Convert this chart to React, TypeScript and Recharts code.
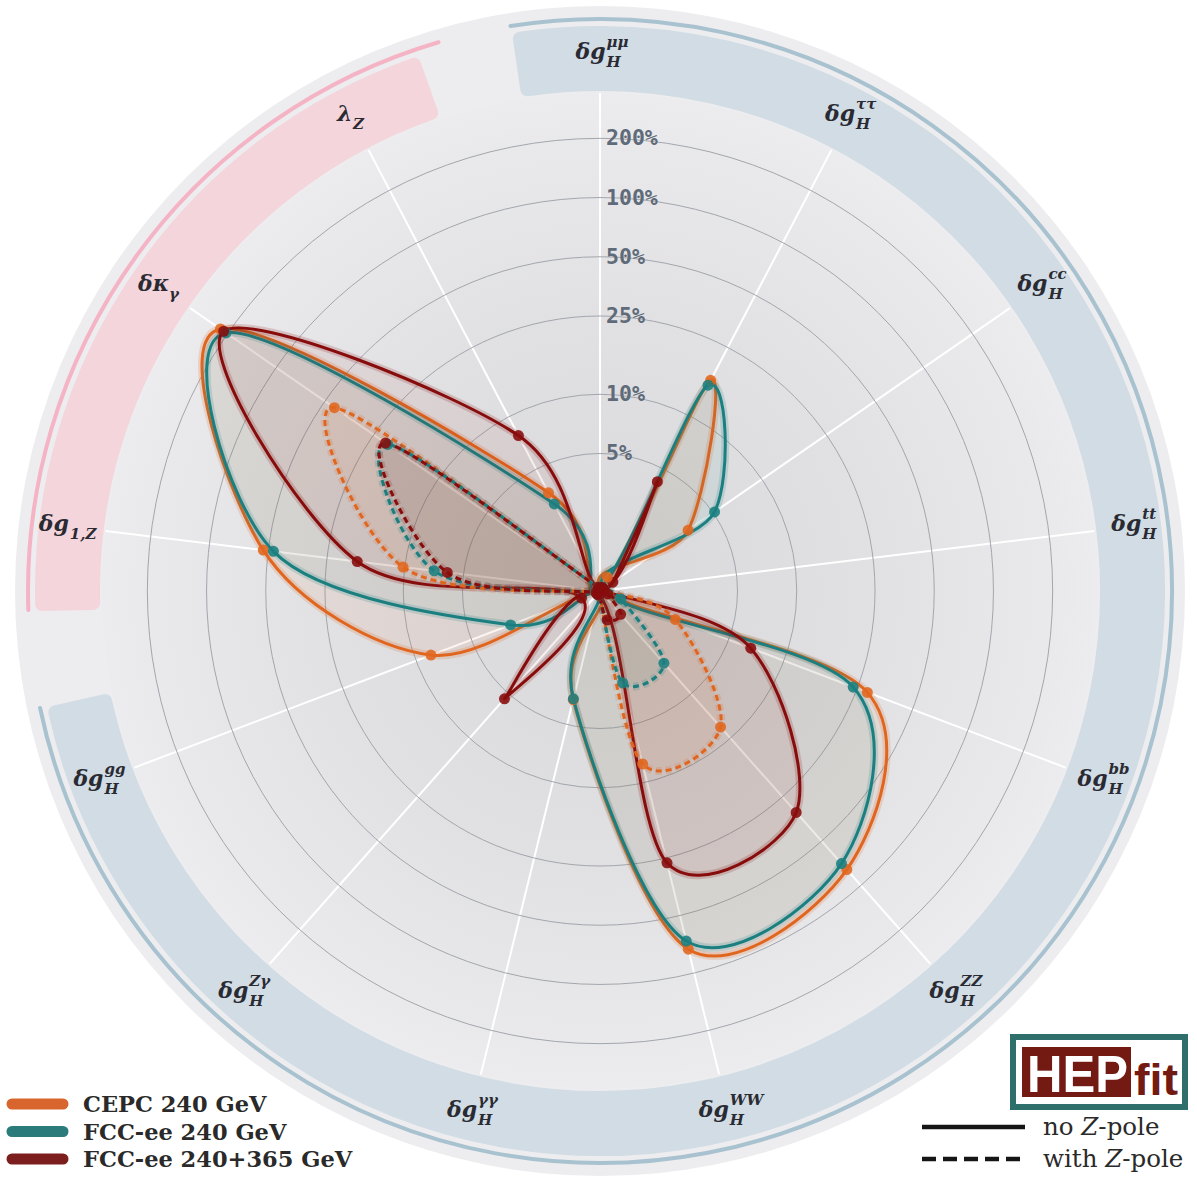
import React from 'react';
import { RadarChart, Radar, PolarGrid, PolarAngleAxis, PolarRadiusAxis } from 'recharts';

// ---------- data ----------
const AXES = ['mumu', 'tautau', 'cc', 'tt', 'bb', 'ZZ', 'WW', 'gamgam', 'Zgam', 'gg', 'g1Z', 'kgam', 'lamZ'];
const LABEL_BASE = ['δg', 'δg', 'δg', 'δg', 'δg', 'δg', 'δg', 'δg', 'δg', 'δg', 'δg', 'δκ', 'λ'];
const LABEL_SUB = ['H', 'H', 'H', 'H', 'H', 'H', 'H', 'H', 'H', 'H', '1,Z', 'γ', 'Z'];
const LABEL_SUP = ['μμ', 'ττ', 'cc', 'tt', 'bb', 'ZZ', 'WW', 'γγ', 'Zγ', 'gg', '', '', ''];

// precision in % (no Z-pole)
const CEPC_240 = [1.04, 16.2, 3.5, 1.05, 28.4, 78, 75, 3.7, 1.05, 8.3, 53, 221, 3.66];
const FCC_240 = [1.04, 15.2, 5.1, 1.05, 23.8, 71, 68, 3.67, 1.05, 3.06, 47, 204, 3.16];
const FCC_240_365 = [1.03, 4.24, 1.2, 1.05, 6.6, 31.9, 26.5, 1.05, 5.4, 1.26, 17.5, 211, 7.8];
// precision in % (with Z-pole)
const CEPC_240_Z = [1.04, 1.2, 1.05, 1.05, 2.57, 8.4, 8.05, 1.05, 1.05, 1.05, 10.2, 43.7, 1.05];
const FCC_240_Z = [1.04, 1.05, 1.05, 1.05, 1.3, 3.09, 3.03, 1.05, 1.05, 1.05, 7.06, 20.5, 1.05];
const FCC_240_365_Z = [1.03, 1.05, 1.05, 1.05, 1.1, 1.44, 1.42, 1.05, 1.05, 1.05, 6.06, 21.1, 1.05];

const RADIUS_TICKS = [5, 10, 25, 50, 100, 200];
const SERIES_NAMES = ['CEPC 240 GeV', 'FCC-ee 240 GeV', 'FCC-ee 240+365 GeV'];
const SERIES_COLORS = ['#e0661f', '#1b7f80', '#870c0c'];
const LEGEND_COLORS = ['#d9652e', '#2b7b7b', '#7d1e1e'];

const data = AXES.map((axis, i) => ({
  axis,
  cepc: CEPC_240[i],
  fcc: FCC_240[i],
  fcc365: FCC_240_365[i],
  cepcZ: CEPC_240_Z[i],
  fccZ: FCC_240_Z[i],
  fcc365Z: FCC_240_365_Z[i],
}));

// ---------- geometry ----------
const W = 1197;
const H = 1193;
const CX = 600;
const CY = 591;
const OUTER = 498;
const LABEL_R = 537;

function pol(r: number, a: number) {
  const t = (a * Math.PI) / 180;
  return [CX + r * Math.sin(t), CY - r * Math.cos(t)];
}

function bandPath(r0: number, r1: number, a0: number, a1: number) {
  const large = a1 - a0 > 180 ? 1 : 0;
  const [x1, y1] = pol(r1, a0);
  const [x2, y2] = pol(r1, a1);
  const [x3, y3] = pol(r0, a1);
  const [x4, y4] = pol(r0, a0);
  return `M${x1},${y1} A${r1},${r1} 0 ${large} 1 ${x2},${y2} L${x3},${y3} A${r0},${r0} 0 ${large} 0 ${x4},${y4} Z`;
}

function arcPath(r: number, a0: number, a1: number) {
  const large = a1 - a0 > 180 ? 1 : 0;
  const [x1, y1] = pol(r, a0);
  const [x2, y2] = pol(r, a1);
  return `M${x1},${y1} A${r},${r} 0 ${large} 1 ${x2},${y2}`;
}

function Band({ a0, a1, l0, l1, fill, line }: { a0: number; a1: number; l0: number; l1: number; fill: string; line: string }) {
  const r0 = 500;
  const r1 = 565;
  const inset = 7;
  const da = ((inset / ((r0 + r1) / 2)) * 180) / Math.PI;
  return (
    <g>
      <path
        d={bandPath(r0 + inset, r1 - inset, a0 + da, a1 - da)}
        fill={fill}
        stroke={fill}
        strokeWidth={inset * 2}
        strokeLinejoin="round"
      />
      <path d={arcPath(572, l0, l1)} fill="none" stroke={line} strokeWidth={4} strokeLinecap="round" />
    </g>
  );
}

function catmullClosed(pts: { x: number; y: number }[]) {
  const n = pts.length;
  let d = `M${pts[0].x},${pts[0].y}`;
  for (let i = 0; i < n; i++) {
    const p0 = pts[(i - 1 + n) % n];
    const p1 = pts[i];
    const p2 = pts[(i + 1) % n];
    const p3 = pts[(i + 2) % n];
    const c1x = p1.x + (p2.x - p0.x) / 6;
    const c1y = p1.y + (p2.y - p0.y) / 6;
    const c2x = p2.x - (p3.x - p1.x) / 6;
    const c2y = p2.y - (p3.y - p1.y) / 6;
    d += ` C${c1x},${c1y} ${c2x},${c2y} ${p2.x},${p2.y}`;
  }
  return d + ' Z';
}

function makeShape(color: string, dashed: boolean) {
  return (props: any) => {
    const pts = props.points || [];
    if (!pts.length) return <g />;
    const d = catmullClosed(pts);
    const dash = dashed ? '6 4' : undefined;
    return (
      <g>
        <path d={d} fill={color} fillOpacity={0.07} stroke="none" />
        <path d={d} fill="none" stroke={color} strokeOpacity={0.18} strokeWidth={8} strokeDasharray={dash} />
        <path d={d} fill="none" stroke={color} strokeWidth={3} strokeDasharray={dash} strokeLinejoin="round" />
      </g>
    );
  };
}

function makeDot(color: string) {
  return (p: any) => <circle key={`d-${p.index}`} cx={p.cx} cy={p.cy} r={5.5} fill={color} fillOpacity={0.88} />;
}

function charW(s: string, fs: number) {
  let w = 0;
  for (const c of s) {
    if (c === 'W') w += fs * 0.95;
    else if (c === ',') w += fs * 0.35;
    else if (c === 'Z' || c === 'H') w += fs * 0.74;
    else if (c === 't') w += fs * 0.42;
    else w += fs * 0.6;
  }
  return w;
}

const AngleTick = (p: any) => {
  const { x, y, payload } = p;
  const dx = x - CX;
  const dy = y - CY;
  const len = Math.hypot(dx, dy) || 1;
  const lx = CX + (dx / len) * LABEL_R;
  const ly = CY + (dy / len) * LABEL_R;
  const i = AXES.indexOf(payload.value);
  const base = LABEL_BASE[i];
  const sub = LABEL_SUB[i];
  const sup = LABEL_SUP[i];
  const bfs = 22;
  const sfs = 15;
  const bw = base.length === 1 ? 16 : 31;
  const total = bw + Math.max(charW(sub, sfs), charW(sup, sfs));
  const x0 = lx - total / 2;
  const by = ly + 5;
  const font = 'DejaVu Serif';
  return (
    <g fontWeight="bold" fill="#2a2a33">
      <text x={x0} y={by} fontFamily={font} fontStyle="italic" fontSize={bfs}>
        {base}
      </text>
      <text x={x0 + bw} y={by + 8} fontFamily={font} fontStyle="italic" fontSize={sfs}>
        {sub}
      </text>
      {sup ? (
        <text x={x0 + bw} y={by - 12} fontFamily={font} fontStyle="italic" fontSize={sfs}>
          {sup}
        </text>
      ) : null}
    </g>
  );
};

const RadiusTick = (p: any) => {
  const { x, y, payload } = p;
  return (
    <text x={x + 6} y={y + 7} fontFamily="DejaVu Sans Mono" fontWeight="bold" fontSize={21.5} fill="#5f6b79">
      {payload.value}%
    </text>
  );
};

const Background = () => (
  <svg width={W} height={H} style={{ position: 'absolute', left: 0, top: 0 }}>
    <defs>
      <radialGradient id="innerGrad" cx={CX} cy={CY} r={OUTER} gradientUnits="userSpaceOnUse">
        <stop offset="0" stopColor="#d8d8da" />
        <stop offset="0.55" stopColor="#e1e1e3" />
        <stop offset="0.9" stopColor="#e9e9eb" />
        <stop offset="1" stopColor="#ececee" />
      </radialGradient>
    </defs>
    <rect x={0} y={0} width={W} height={H} fill="#ffffff" />
    <circle cx={CX} cy={CY} r={585} fill="#ededf0" />
    <circle cx={CX} cy={CY} r={OUTER} fill="url(#innerGrad)" />
    <Band a0={-9} a1={258.2} l0={-9} l1={258.2} fill="#d1dce4" line="#a8c2cf" />
    <Band a0={267.9} a1={341.3} l0={268.1} l1={343.6} fill="#f4d5dc" line="#f5b4c5" />
  </svg>
);

const Legend = () => (
  <svg width={W} height={H} style={{ position: 'absolute', left: 0, top: 0, pointerEvents: 'none' }}>
    {SERIES_NAMES.map((name, i) => {
      const yc = 1104 + i * 27.5;
      return (
        <g key={name}>
          <line x1={12} x2={63} y1={yc} y2={yc} stroke={LEGEND_COLORS[i]} strokeWidth={11} strokeLinecap="round" />
          <text x={83} y={yc + 8} fontFamily="DejaVu Serif" fontWeight="bold" fontSize={22.5} fill="#2a2a2a">
            {name}
          </text>
        </g>
      );
    })}
    <line x1={922} x2={1025} y1={1127} y2={1127} stroke="#151515" strokeWidth={4.5} />
    <line x1={922} x2={1022} y1={1159} y2={1159} stroke="#151515" strokeWidth={4.5} strokeDasharray="14 7" />
    <text x={1043} y={1135} fontFamily="DejaVu Serif" fontSize={24.5} fill="#2a2a2a">
      no <tspan fontStyle="italic">Z</tspan>-pole
    </text>
    <text x={1043} y={1167} fontFamily="DejaVu Serif" fontSize={24.5} fill="#2a2a2a">
      with <tspan fontStyle="italic">Z</tspan>-pole
    </text>
    <rect x={1013} y={1037} width={172} height={70} fill="#ffffff" stroke="#2e6e6b" strokeWidth={6} />
    <rect x={1022} y={1047} width={109} height={50} fill="#731a12" />
    <text
      x={1027}
      y={1092}
      fontFamily="Liberation Sans"
      fontWeight="bold"
      fontSize={52}
      fill="#ffffff"
      textLength={101}
      lengthAdjust="spacingAndGlyphs"
    >
      HEP
    </text>
    <text
      x={1134}
      y={1095}
      fontFamily="Liberation Sans"
      fontWeight="bold"
      fontSize={44}
      fill="#731a12"
      textLength={44}
      lengthAdjust="spacingAndGlyphs"
    >
      fit
    </text>
  </svg>
);

const SERIES = [
  { key: 'cepc', color: SERIES_COLORS[0], dashed: false },
  { key: 'fcc', color: SERIES_COLORS[1], dashed: false },
  { key: 'fcc365', color: SERIES_COLORS[2], dashed: false },
  { key: 'cepcZ', color: SERIES_COLORS[0], dashed: true },
  { key: 'fccZ', color: SERIES_COLORS[1], dashed: true },
  { key: 'fcc365Z', color: SERIES_COLORS[2], dashed: true },
];

export default function App() {
  return (
    <div style={{ position: 'absolute', left: 0, top: 0, width: W, height: H, background: '#fff' }}>
      <Background />
      <RadarChart
        width={W}
        height={H}
        data={data}
        cx={CX}
        cy={CY}
        outerRadius={OUTER}
        margin={{ top: 0, right: 0, bottom: 0, left: 0 }}
        style={{ position: 'absolute', left: 0, top: 0 }}
      >
        <PolarGrid gridType="circle" polarRadius={[]} radialLines={true} stroke="#ffffff" strokeWidth={2} />
        <PolarGrid gridType="circle" radialLines={false} stroke="#a2a6ad" strokeWidth={1} />
        <PolarAngleAxis dataKey="axis" tick={<AngleTick />} axisLine={false} tickLine={false} />
        <PolarRadiusAxis
          angle={90}
          type="number"
          scale="log"
          domain={[1, 340]}
          allowDataOverflow
          ticks={RADIUS_TICKS as any}
          tick={<RadiusTick />}
          axisLine={false}
          tickLine={false}
        />
        {SERIES.map((s) => (
          <Radar
            key={s.key}
            dataKey={s.key}
            stroke={s.color}
            fill={s.color}
            isAnimationActive={false}
            shape={makeShape(s.color, s.dashed)}
            dot={makeDot(s.color)}
          />
        ))}
      </RadarChart>
      <Legend />
    </div>
  );
}
